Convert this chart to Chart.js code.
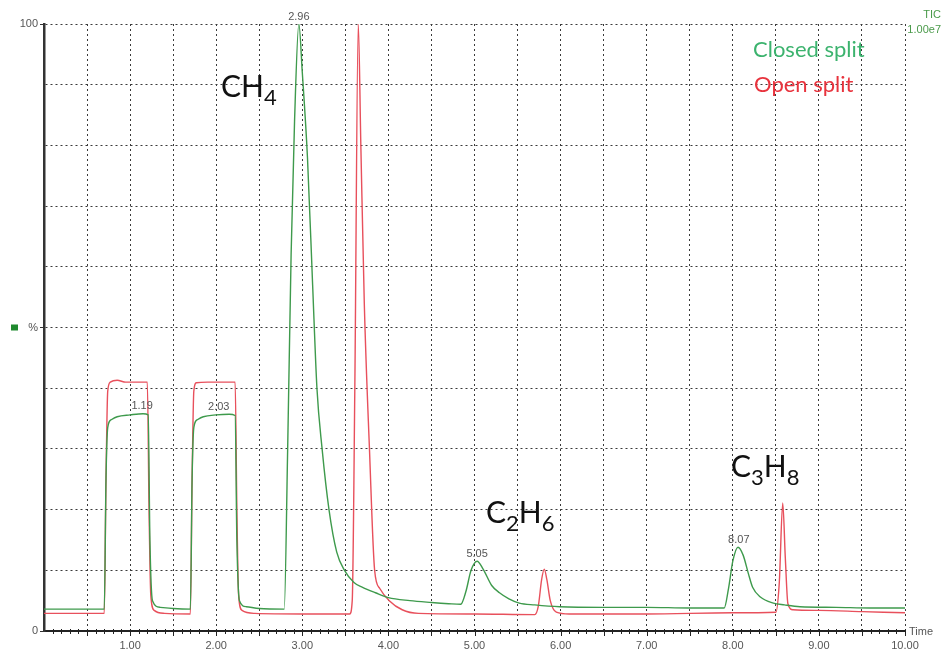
<!DOCTYPE html>
<html>
<head>
<meta charset="utf-8">
<script src="https://cdn.jsdelivr.net/npm/chart.js@4.4.1/dist/chart.umd.min.js"></script>
<style>
  body { margin: 0; background: #fff; }
  #wrap { width: 948px; height: 655px; position: relative; }
</style>
</head>
<body>
<div id="wrap"><canvas id="cromatograma"></canvas></div>
<script>
// === DATOS (tiempo en min, señal en %) ===
const tiempoCerrado = [0.0, 0.70, 0.72, 0.74, 0.78, 0.85, 1.0, 1.15, 1.21, 1.23, 1.26, 1.35, 1.5, 1.70,
  1.72, 1.74, 1.78, 1.85, 2.0, 2.15, 2.22, 2.24, 2.27, 2.35, 2.5, 2.79, 2.83, 2.87, 2.91, 2.96, 3.00,
  3.06, 3.12, 3.17, 3.23, 3.31, 3.40, 3.49, 3.60, 3.70, 3.85, 4.0, 4.25, 4.5, 4.7, 4.84, 4.90, 4.96,
  5.03, 5.10, 5.20, 5.29, 5.40, 5.52, 5.70, 5.99, 6.5, 7.0, 7.5, 7.90, 7.95, 8.00, 8.06, 8.12, 8.18,
  8.23, 8.32, 8.47, 8.60, 8.78, 9.2, 9.6, 10.0];
const senalCerrado = [3.6, 3.6, 25, 33.5, 34.8, 35.3, 35.6, 35.8, 35.6, 15, 5, 3.9, 3.7, 3.6,
  25, 33.5, 34.8, 35.3, 35.6, 35.7, 35.5, 15, 5, 4.0, 3.7, 3.6, 30, 62, 84, 100, 92,
  78, 57, 40, 30, 20, 13, 10, 8, 7.2, 6.3, 5.5, 5.0, 4.7, 4.5, 4.4, 6.5, 10,
  11.5, 10.2, 7.5, 6.3, 5.3, 4.6, 4.3, 4.0, 3.9, 3.9, 3.8, 3.8, 7, 11.5, 13.8, 12.5, 9.5,
  7.2, 5.6, 4.6, 4.3, 4.0, 3.9, 3.8, 3.8];

const tiempoAbierto = [0.0, 0.70, 0.72, 0.74, 0.77, 0.85, 0.95, 1.05, 1.20, 1.22, 1.24, 1.28, 1.4, 1.70,
  1.72, 1.74, 1.77, 1.9, 2.10, 2.22, 2.24, 2.26, 2.30, 2.45, 3.0, 3.55, 3.58, 3.61, 3.65, 3.68, 3.72,
  3.78, 3.84, 3.90, 4.01, 4.16, 4.35, 5.0, 5.70, 5.74, 5.78, 5.81, 5.84, 5.88, 5.95, 6.1, 7.0, 8.0,
  8.50, 8.54, 8.58, 8.61, 8.64, 8.70, 9.0, 9.5, 10.0];
const senalAbierto = [2.9, 2.9, 25, 39.5, 41.0, 41.3, 41.0, 41.0, 41.0, 20, 6, 3.4, 2.9, 2.8,
  25, 39.5, 40.9, 41.0, 41.0, 41.0, 20, 6, 3.4, 2.9, 2.8, 2.8, 5, 40, 100, 80, 54,
  30, 10, 7, 5, 3.5, 2.9, 2.8, 2.7, 4, 8.5, 10.2, 8.5, 5, 3.1, 2.8, 2.8, 3.0,
  3.1, 8, 21.1, 12, 4.5, 3.5, 3.4, 3.2, 3.0];

// etiquetas de los picos (tiempo, señal, texto)
const picosTiempo = [1.14, 2.03, 2.96, 5.03, 8.07];
const picosSenal = [35.8, 35.7, 100, 11.5, 13.8];
const picosTexto = ['1.19', '2.03', '2.96', '5.05', '8.07'];

const etiquetasY = { 0: '0', 50: '%', 100: '100' };

const VERDE = '#3e9a4c';
const ROJO = '#e8505c';

function puntos(xs, ys) {
  return xs.map((x, i) => ({ x: x, y: ys[i] }));
}

// === PLUGIN: marcas del eje, textos y anotaciones ===
const anotaciones = {
  id: 'anotaciones',
  afterDraw(chart) {
    const c = chart.ctx;
    const sx = chart.scales.x;
    const sy = chart.scales.y;
    const base = chart.chartArea.bottom;
    c.save();

    // marcas menores del eje x
    c.strokeStyle = '#222';
    c.lineWidth = 1;
    for (let i = 1; i <= 100; i++) {
      const px = Math.round(sx.getPixelForValue(i / 10)) + 0.5;
      const largo = i % 5 === 0 ? 5 : 3;
      c.beginPath();
      c.moveTo(px, base - 2);
      c.lineTo(px, base + largo);
      c.stroke();
    }

    // cuadrito verde junto al %
    c.fillStyle = '#1f8a2e';
    c.fillRect(11, sy.getPixelForValue(50) - 3, 7, 6);

    // etiquetas de picos
    c.fillStyle = '#555';
    c.font = '11px "Liberation Sans", Arial, sans-serif';
    c.textAlign = 'center';
    c.textBaseline = 'bottom';
    picosTexto.forEach((t, i) => {
      const px = sx.getPixelForValue(picosTiempo[i]);
      const py = sy.getPixelForValue(picosSenal[i]);
      c.fillText(t, px, py - 2);
    });

    // TIC / 1.00e7
    c.fillStyle = '#4a9a4a';
    c.textAlign = 'right';
    c.textBaseline = 'middle';
    c.fillText('TIC', 941, 15);
    c.fillText('1.00e7', 941, 30);

    // "Time"
    c.fillStyle = '#555';
    c.textAlign = 'left';
    c.fillText('Time', 909, 632);

    // leyenda
    c.font = '22px Lato, "Open Sans", sans-serif';
    c.textBaseline = 'alphabetic';
    c.fillStyle = '#3cb36e';
    c.fillText('Closed split', 753, 57);
    c.fillStyle = '#e8333d';
    c.fillText('Open split', 754, 92);

    // fórmulas
    function formula(partes, x, y) {
      c.fillStyle = '#111';
      let px = x;
      partes.forEach(p => {
        c.font = p.sub ? '22px Lato, sans-serif' : '30px Lato, sans-serif';
        c.fillText(p.t, px, p.sub ? y + 8 : y);
        px += c.measureText(p.t).width;
      });
    }
    formula([{ t: 'CH' }, { t: '4', sub: true }], 221, 97);
    formula([{ t: 'C' }, { t: '2', sub: true }, { t: 'H' }, { t: '6', sub: true }], 486, 523);
    formula([{ t: 'C' }, { t: '3', sub: true }, { t: 'H' }, { t: '8', sub: true }], 731, 477);

    c.restore();
  }
};

// === GRÁFICA ===
const ctx = document.getElementById('cromatograma').getContext('2d');
new Chart(ctx, {
  type: 'line',
  data: {
    datasets: [
      {
        label: 'Closed split',
        data: puntos(tiempoCerrado, senalCerrado),
        borderColor: VERDE,
        borderWidth: 1.4,
        pointRadius: 0,
        cubicInterpolationMode: 'monotone'
      },
      {
        label: 'Open split',
        data: puntos(tiempoAbierto, senalAbierto),
        borderColor: ROJO,
        borderWidth: 1.4,
        pointRadius: 0,
        cubicInterpolationMode: 'monotone'
      }
    ]
  },
  options: {
    responsive: true,
    maintainAspectRatio: false,
    animation: false,
    layout: { padding: { left: 0, right: 43, top: 24, bottom: 0 } },
    plugins: {
      legend: { display: false },
      tooltip: { enabled: false }
    },
    scales: {
      x: {
        type: 'linear',
        min: 0,
        max: 10,
        afterFit: s => { s.height = 24; },
        grid: { color: '#3a3a3a', lineWidth: 1, drawTicks: false },
        border: { color: '#222', width: 2, dash: [2, 3] },
        ticks: {
          stepSize: 0.5,
          padding: 8,
          maxRotation: 0,
          autoSkip: false,
          color: '#555',
          font: { family: '"Liberation Sans", Arial, sans-serif', size: 11 },
          callback: v => (v >= 1 && Math.abs(v - Math.round(v)) < 1e-6) ? v.toFixed(2) : ''
        }
      },
      y: {
        min: 0,
        max: 100,
        afterFit: s => { s.width = 44; },
        grid: {
          color: '#3a3a3a',
          lineWidth: 1,
          tickLength: 4,
          tickColor: c => (c.tick && etiquetasY[c.tick.value] !== undefined) ? '#333' : 'rgba(0,0,0,0)'
        },
        border: { color: '#333', width: 2.5, dash: [2, 3] },
        ticks: {
          stepSize: 10,
          padding: 2,
          color: '#555',
          font: { family: '"Liberation Sans", Arial, sans-serif', size: 11 },
          callback: v => etiquetasY[v] !== undefined ? etiquetasY[v] : ''
        }
      }
    }
  },
  plugins: [anotaciones]
});
</script>
</body>
</html>
